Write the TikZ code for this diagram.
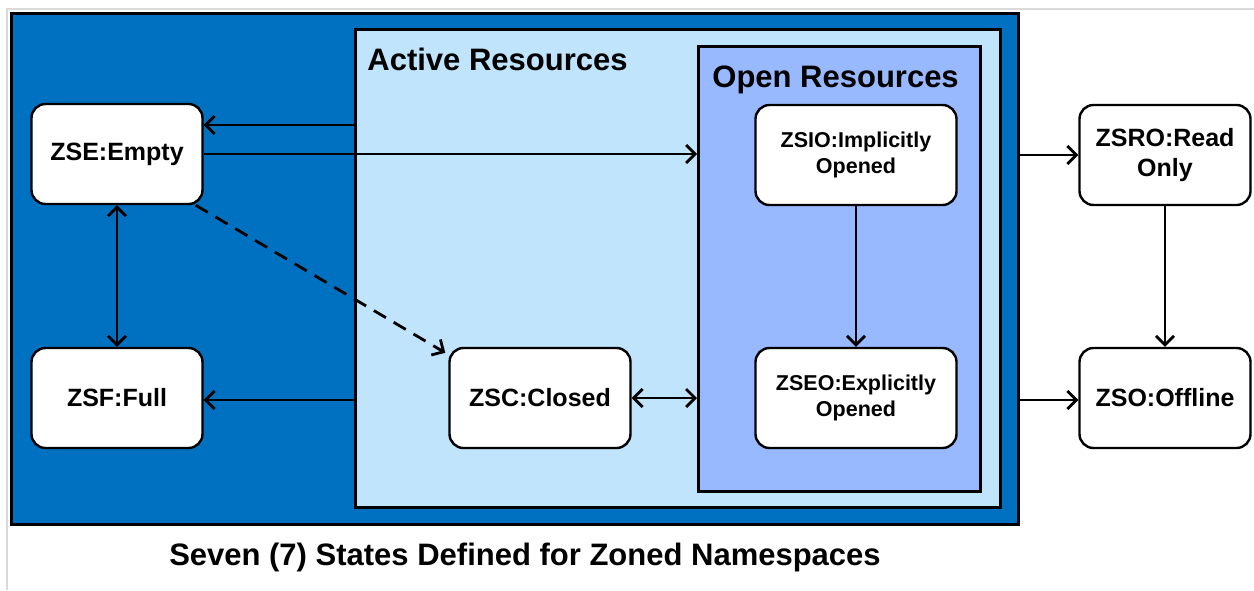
\documentclass[tikz,border=0pt]{standalone}
\usepackage{fontspec}
\setmainfont{Liberation Sans}
\usetikzlibrary{arrows.meta,calc}
\definecolor{zoneblue}{RGB}{0,112,192}
\definecolor{activeblue}{RGB}{191,228,252}
\definecolor{openblue}{RGB}{153,185,255}
\newcommand{\bigbf}{\bfseries\fontsize{15.5}{18}\selectfont}

\begin{document}
\begin{tikzpicture}[x=0.5pt, y=-0.5pt, line width=1.4pt,
    >={Straight Barb[length=4.5pt,width=9pt]},
    state/.style={draw, fill=white, line width=1.2pt, rounded corners=7pt,
        minimum width=85.5pt, minimum height=50pt, inner sep=0pt, align=center,
        font=\bfseries\fontsize{12.5}{15}\selectfont},
    opened/.style={state, minimum width=100.5pt, font=\bfseries\fontsize{10.75}{13}\selectfont},
    region/.style={draw, anchor=north west, inner sep=0pt}]
                    \useasboundingbox (0,0) rectangle (1254,590);
                    \draw[black!15, line width=1pt] (7,590) -- (7,9) -- (1254,9);

                    % nested resource regions
                    \node[region, fill=zoneblue, line width=1.6pt, minimum width=503.5pt, minimum height=255.5pt] (outer) at (10,12) {};
                    \node[region, fill=activeblue, line width=1.3pt, minimum width=322.5pt, minimum height=239pt] (active) at (354,28) {};
                    \node[region, fill=openblue, line width=1.3pt, minimum width=141pt, minimum height=222.5pt] (open) at (697,45) {};

                    \node[anchor=base west, inner sep=0pt, font=\bigbf] (activelbl) at (366,70) {Active Resources};
                    \node[anchor=base west, inner sep=0pt, font=\bigbf] (openlbl) at (711,87) {Open Resources};

                    % the seven states
                    \node[state] (zse) at (117,154) {\raisebox{-1.5pt}{ZSE:Empty}};
                    \node[state] (zsf) at (117,398) {\raisebox{-1pt}{ZSF:Full}};
                    \node[state, minimum width=90.5pt] (zsc) at (540,398) {\raisebox{-1pt}{ZSC:Closed}};
                    \node[opened] (zsio) at (856,155) {ZSIO:Implicitly\\Opened};
                    \node[opened] (zseo) at (856,398) {ZSEO:Explicitly\\Opened};
                    \node[state] (zsro) at (1165,155) {ZSRO:Read\\Only};
                    \node[state] (zso) at (1165,398) {\raisebox{-1pt}{ZSO:Offline}};

                    % transitions
                    \draw[->] (active.west |- 0,125) -- (zse.east |- 0,125);
                    \draw[->] (zse.east) -- (open.west |- zse.east);
                    \draw[<->] (zse.south) -- (zsf.north);
                    \draw[->, dash pattern=on 7pt off 4.5pt] ($(zse.south east)+(-8,0)$) -- ($(zsc.north west)+(-3,6)$);
                    \draw[->] (active.west |- 0,400) -- (zsf.east |- 0,400);
                    \draw[<->] (zsc.east) -- (open.west |- zsc.east);
                    \draw[->] (zsio.south) -- (zseo.north);
                    \draw[->] (outer.east |- zsro) -- (zsro.west);
                    \draw[->] (zsro.south) -- (zso.north);
                    \draw[->] (outer.east |- 0,400) -- (zso.west |- 0,400);

                    \node[font=\bigbf] (caption) at (525,557) {Seven (7) States Defined for Zoned Namespaces};
                \end{tikzpicture}
\end{document}
